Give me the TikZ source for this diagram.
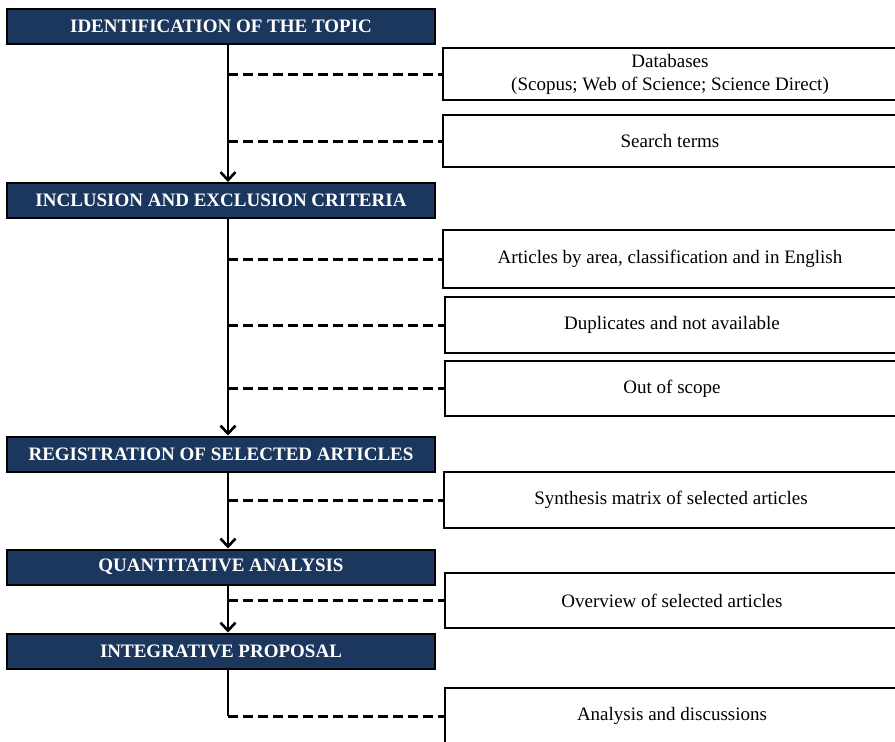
\documentclass[tikz,border=0pt]{standalone}
\usepackage{fontspec}
\setmainfont{Liberation Serif}
\usetikzlibrary{arrows.meta}
\definecolor{navy}{RGB}{27,55,94}
\begin{document}
\begin{tikzpicture}[x=1pt,y=-1pt,
  stage/.style={draw=black, line width=2pt, fill=navy, text=white,
    font=\fontsize{19}{22}\selectfont\bfseries,
    minimum width=428pt, minimum height=35pt, inner sep=0pt},
  item/.style={draw=black, line width=2.7pt, fill=white, align=center,
    font=\fontsize{19}{23}\selectfont, minimum width=454pt, inner sep=0pt},
  trunk/.style={line width=2.6pt,
    -{Straight Barb[length=8pt,width=15pt,line width=2.6pt]}},
  trunkline/.style={line width=2.6pt},
  link/.style={line width=3pt, dash pattern=on 10pt off 5pt}
]
\useasboundingbox (0,0) rectangle (895,742);
\clip (0,0) rectangle (895,742);

% main stages
\node[stage] (s1) at (221,26.5) {IDENTIFICATION OF THE TOPIC};
\node[stage] (s2) at (221,200.5) {INCLUSION AND EXCLUSION CRITERIA};
\node[stage] (s3) at (221,454) {REGISTRATION OF SELECTED ARTICLES};
\node[stage] (s4) at (221,567) {QUANTITATIVE ANALYSIS};
\node[stage] (s5) at (221,651) {INTEGRATIVE PROPOSAL};

% detail boxes
\node[item, minimum height=52pt] (db) at (670,74)
  {Databases\\(Scopus; Web of Science; Science Direct)};
\node[item, minimum height=52pt] (st) at (670,141) {Search terms};
\node[item, minimum height=58pt] (ar) at (670,259)
  {Articles by area, classification and in English};
\node[item, minimum height=56pt] (du) at (672,325) {Duplicates and not available};
\node[item, minimum height=55pt] (os) at (672,388.5) {Out of scope};
\node[item, minimum height=56pt] (sy) at (671,500) {Synthesis matrix of selected articles};
\node[item, minimum height=55pt] (ov) at (672,600.5) {Overview of selected articles};
\node[item, minimum height=56pt] (an) at (672,716) {Analysis and discussions};

% trunk points
\coordinate (t1) at ([xshift=7pt]s1.south);
\coordinate (t2) at ([xshift=7pt]s2.south);
\coordinate (t3) at ([xshift=7pt]s3.south);
\coordinate (t4) at ([xshift=7pt]s4.south);
\coordinate (t5) at ([xshift=7pt]s5.south);

% flow arrows
\draw[trunk] (t1) -- ([xshift=7pt]s2.north);
\draw[trunk] (t2) -- ([xshift=7pt]s3.north);
\draw[trunk] (t3) -- ([xshift=7pt]s4.north);
\draw[trunk] (t4) -- ([xshift=7pt]s5.north);
\coordinate (k) at (t5 |- an.west);
\draw[trunkline] (t5) -- (k);

% dashed branches
\draw[link] (t1 |- db.west) -- (db.west);
\draw[link] (t1 |- st.west) -- (st.west);
\draw[link] (t2 |- ar.west) -- (ar.west);
\draw[link] (t2 |- du.west) -- (du.west);
\draw[link] (t2 |- os.west) -- (os.west);
\draw[link] (t3 |- sy.west) -- (sy.west);
\draw[link] (t4 |- ov.west) -- (ov.west);
\draw[link] (k) -- (an.west);
\end{tikzpicture}
\end{document}
